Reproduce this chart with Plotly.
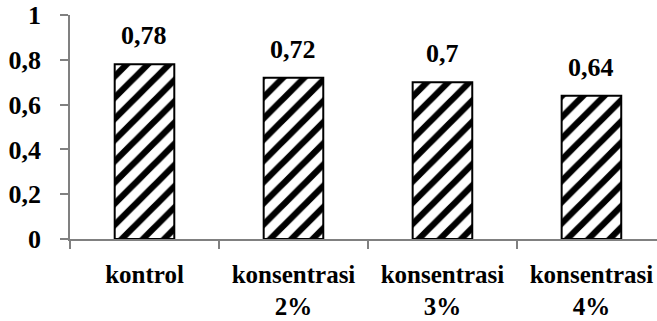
import plotly.graph_objects as go

categories = ["kontrol", "konsentrasi<br>2%", "konsentrasi<br>3%", "konsentrasi<br>4%"]
values = [0.78, 0.72, 0.70, 0.64]
value_labels = ["0,78", "0,72", "0,7", "0,64"]
y_ticks = [0, 0.2, 0.4, 0.6, 0.8, 1]
y_tick_labels = ["0", "0,2", "0,4", "0,6", "0,8", "1"]

FONT = "Liberation Serif"

fig = go.Figure()
fig.add_trace(go.Bar(
    x=list(range(len(categories))),
    y=values,
    width=0.40,
    marker=dict(
        color="white",
        line=dict(color="black", width=2),
        pattern=dict(shape="/", fgcolor="black", bgcolor="white", size=15, solidity=0.42, fillmode="replace"),
    ),
    hoverinfo="skip",
))

for i, (v, t) in enumerate(zip(values, value_labels)):
    fig.add_annotation(x=i, y=v, text="<b>" + t + "</b>", showarrow=False, yanchor="bottom", yshift=12,
                       font=dict(family=FONT, size=26, color="black"))

fig.update_layout(
    width=657, height=321,
    margin=dict(l=70, r=0, t=15, b=82),
    plot_bgcolor="white", paper_bgcolor="white",
    showlegend=False,
    font=dict(family=FONT),
    xaxis=dict(
        range=[-0.5, 3.44], automargin=False,
        tickmode="array", tickvals=list(range(len(categories))),
        ticktext=["<b>" + c + "</b>" for c in categories],
        showline=True, linecolor="#808080", linewidth=1.5,
        showgrid=False, zeroline=False,
        ticks="", ticklabelstandoff=12,
        tickfont=dict(family=FONT, size=25, color="black"),
        minor=dict(tickmode="array", tickvals=[-0.5, 0.5, 1.5, 2.5], ticks="outside",
                   ticklen=8, tickcolor="#808080", tickwidth=1.5),
    ),
    yaxis=dict(
        range=[0, 1], automargin=False,
        tickmode="array", tickvals=y_ticks, ticktext=["<b>" + t + "</b>" for t in y_tick_labels],
        showline=True, linecolor="#808080", linewidth=1.5,
        showgrid=False, zeroline=False,
        ticks="outside", ticklen=8, tickcolor="#808080", tickwidth=1.5,
        ticklabelstandoff=14,
        tickfont=dict(family=FONT, size=26, color="black"),
    ),
)

fig.write_html("out.html", config={"displayModeBar": False},
               post_script="document.body.style.margin='0';document.body.style.overflow='hidden';")
